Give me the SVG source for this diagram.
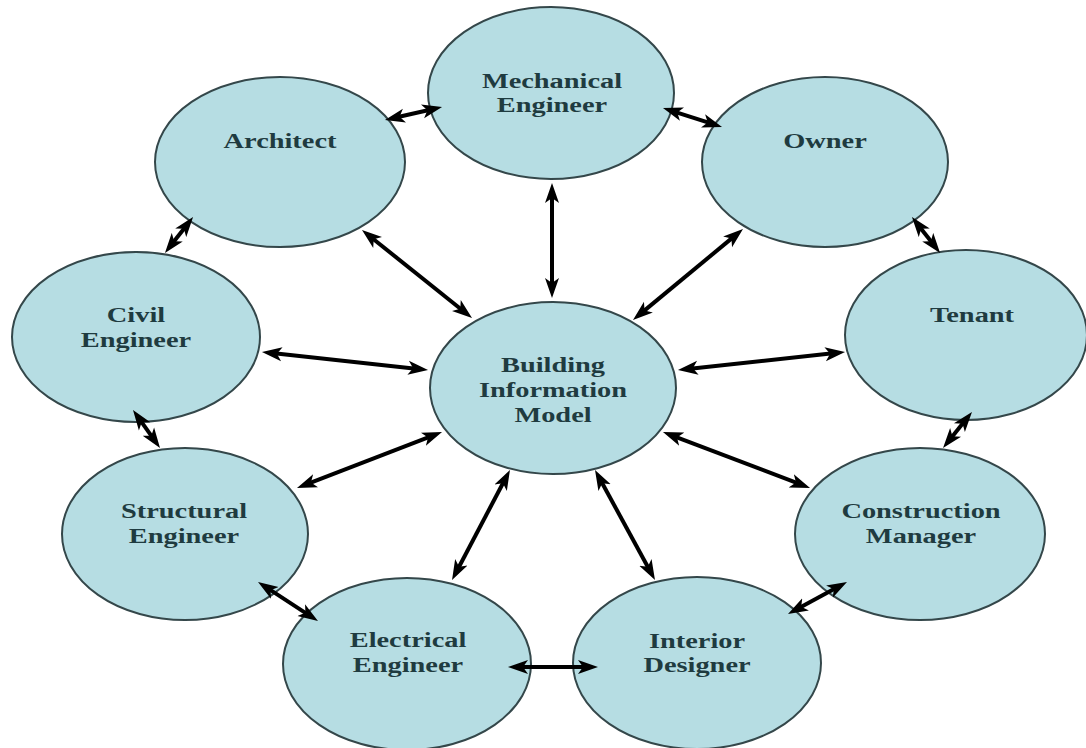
<svg xmlns="http://www.w3.org/2000/svg" width="1086" height="748" viewBox="0 0 1086 748">
<style>
.node ellipse{fill:#b6dde3;stroke:#34474a;stroke-width:2}
.node text{font-family:"Liberation Serif","Times New Roman",serif;font-weight:bold;font-size:22px;fill:#1f3b40;text-anchor:middle}
.conn line{stroke:#000;stroke-width:4;fill:none;marker-start:url(#ah);marker-end:url(#ah)}
</style>
<defs>
<marker id="ah" markerUnits="userSpaceOnUse" markerWidth="22" markerHeight="16" refX="10" refY="7" orient="auto-start-reverse" viewBox="0 0 22 14">
<path d="M0,0 L20,7 L0,14 L5,7 z" fill="#000"/>
</marker>
</defs>
<rect width="1086" height="748" fill="#fff"/>
<g id="n-mech" class="node"><ellipse cx="551" cy="93" rx="123" ry="86"/>
<text transform="translate(552,88) scale(1.29,1)">Mechanical</text>
<text transform="translate(552,112) scale(1.29,1)">Engineer</text></g>
<g id="n-arch" class="node"><ellipse cx="280" cy="162" rx="125" ry="85"/>
<text transform="translate(280,148) scale(1.29,1)">Architect</text></g>
<g id="n-owner" class="node"><ellipse cx="825" cy="162" rx="123" ry="85"/>
<text transform="translate(825,148) scale(1.29,1)">Owner</text></g>
<g id="n-civil" class="node"><ellipse cx="136" cy="337" rx="124" ry="85"/>
<text transform="translate(136,322) scale(1.29,1)">Civil</text>
<text transform="translate(136,347) scale(1.29,1)">Engineer</text></g>
<g id="n-tenant" class="node"><ellipse cx="966" cy="335" rx="121" ry="85"/>
<text transform="translate(972,322) scale(1.29,1)">Tenant</text></g>
<g id="n-bim" class="node"><ellipse cx="553" cy="388" rx="123" ry="86"/>
<text transform="translate(553,372) scale(1.29,1)">Building</text>
<text transform="translate(553,397) scale(1.29,1)">Information</text>
<text transform="translate(553,422) scale(1.29,1)">Model</text></g>
<g id="n-struct" class="node"><ellipse cx="185" cy="534" rx="123" ry="86"/>
<text transform="translate(184,518) scale(1.29,1)">Structural</text>
<text transform="translate(184,543) scale(1.29,1)">Engineer</text></g>
<g id="n-cm" class="node"><ellipse cx="920" cy="534" rx="125" ry="86"/>
<text transform="translate(921,518) scale(1.29,1)">Construction</text>
<text transform="translate(921,543) scale(1.29,1)">Manager</text></g>
<g id="n-elec" class="node"><ellipse cx="407" cy="664" rx="124" ry="86"/>
<text transform="translate(408,647) scale(1.29,1)">Electrical</text>
<text transform="translate(408,672) scale(1.29,1)">Engineer</text></g>
<g id="n-int" class="node"><ellipse cx="697" cy="663" rx="124" ry="86"/>
<text transform="translate(697,648) scale(1.29,1)">Interior</text>
<text transform="translate(697,672) scale(1.29,1)">Designer</text></g>
<g id="connectors" class="conn">
<line x1="394.7" y1="117.8" x2="432.3" y2="109.2"/>
<line x1="672.5" y1="111.1" x2="712.5" y2="123.9"/>
<line x1="552" y1="193" x2="552" y2="288"/>
<line x1="369.8" y1="236.2" x2="464.2" y2="311.8"/>
<line x1="735.3" y1="235.4" x2="640.7" y2="313.6"/>
<line x1="186.9" y1="224.9" x2="171.1" y2="245.1"/>
<line x1="918.1" y1="224.9" x2="933.9" y2="245.1"/>
<line x1="271.9" y1="353.1" x2="418.1" y2="368.9"/>
<line x1="687.9" y1="368.9" x2="835.1" y2="353.1"/>
<line x1="138.8" y1="418.2" x2="154.2" y2="439.8"/>
<line x1="306.3" y1="484.4" x2="432.7" y2="435.6"/>
<line x1="672.3" y1="435.6" x2="800.7" y2="484.4"/>
<line x1="965.7" y1="419.8" x2="949.3" y2="440.2"/>
<line x1="266.4" y1="587.4" x2="309.6" y2="615.6"/>
<line x1="505.3" y1="478.8" x2="456.7" y2="571.2"/>
<line x1="599.8" y1="478.8" x2="650.2" y2="571.2"/>
<line x1="838.2" y1="586.8" x2="796.8" y2="609.2"/>
<line x1="518" y1="667" x2="588" y2="667"/>
</g>
</svg>
